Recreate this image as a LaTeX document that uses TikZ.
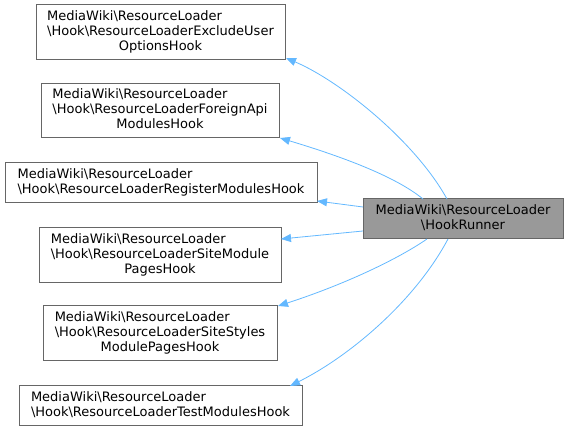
\documentclass[tikz,border=0pt]{standalone}
\usepackage{fontspec}
\setmainfont{DejaVu Sans}
\usetikzlibrary{arrows.meta,calc}
\definecolor{edgeblue}{HTML}{63B8FF}
\definecolor{boxline}{HTML}{666666}
\definecolor{hrfill}{HTML}{999999}
\newcommand{\bs}{\textbackslash}
\newcommand{\boxtext}[3]{\begin{tabular}{@{}l@{}}#1\\#2\\\multicolumn{1}{@{}c@{}}{#3}\end{tabular}}
\newcommand{\boxtwo}[2]{\begin{tabular}{@{}l@{}}#1\\#2\end{tabular}}
\begin{document}
\begin{tikzpicture}[x=1pt,y=1pt,
  cls/.style={draw=boxline, line width=1pt, rectangle, inner sep=0pt, outer sep=0pt,
    font=\fontsize{13}{15}\selectfont},
  link/.style={draw=edgeblue, line width=0.8pt, {Triangle[length=10pt,width=8pt]}-}]
\useasboundingbox (0,0) rectangle (568,431);
\node[cls, minimum width=249pt, minimum height=55pt] (b1) at (160.5,398.5)
  {\boxtext{MediaWiki\bs ResourceLoader}{\bs Hook\bs ResourceLoaderExcludeUser}{OptionsHook}};
\node[cls, minimum width=238pt, minimum height=54pt] (b2) at (160,320)
  {\boxtext{MediaWiki\bs ResourceLoader}{\bs Hook\bs ResourceLoaderForeignApi}{ModulesHook}};
\node[cls, minimum width=312pt, minimum height=40pt] (b3) at (161,248)
  {\boxtwo{MediaWiki\bs ResourceLoader}{\bs Hook\bs ResourceLoaderRegisterModulesHook}};
\node[cls, minimum width=242pt, minimum height=55pt] (b4) at (160,175.5)
  {\boxtext{MediaWiki\bs ResourceLoader}{\bs Hook\bs ResourceLoaderSiteModule}{PagesHook}};
\node[cls, minimum width=234pt, minimum height=55pt] (b5) at (160,97.5)
  {\boxtext{MediaWiki\bs ResourceLoader}{\bs Hook\bs ResourceLoaderSiteStyles}{ModulePagesHook}};
\node[cls, minimum width=283pt, minimum height=40pt] (b6) at (160.5,25)
  {\boxtwo{MediaWiki\bs ResourceLoader}{\bs Hook\bs ResourceLoaderTestModulesHook}};
\node[cls, fill=hrfill, minimum width=200pt, minimum height=40pt] (hr) at (463,212)
  {\begin{tabular}{@{}c@{}}MediaWiki\bs ResourceLoader\\\bs HookRunner\end{tabular}};
% edges
\draw[link] ($(b1.south east)+(1,2)$) .. controls (340,350) and (415,290) .. ($(hr.north west)+(84,0)$);
\draw[link] ($(b2.south east)+(1,0)$) .. controls (340,275) and (395,255) .. ($(hr.north west)+(60,0)$);
\draw[link] ($(b3.south east)+(0,2)$) -- ($(hr.north west)+(0,-8)$);
\draw[link] ($(b4.north east)+(0,-11)$) -- ($(hr.south west)+(0,8)$);
\draw[link] ($(b5.north east)+(1,0)$) .. controls (340,145) and (395,170) .. ($(hr.south west)+(64,0)$);
\draw[link] ($(b6.north east)+(-12,0)$) .. controls (350,75) and (415,130) .. ($(hr.south west)+(85,0)$);
\end{tikzpicture}
\end{document}
